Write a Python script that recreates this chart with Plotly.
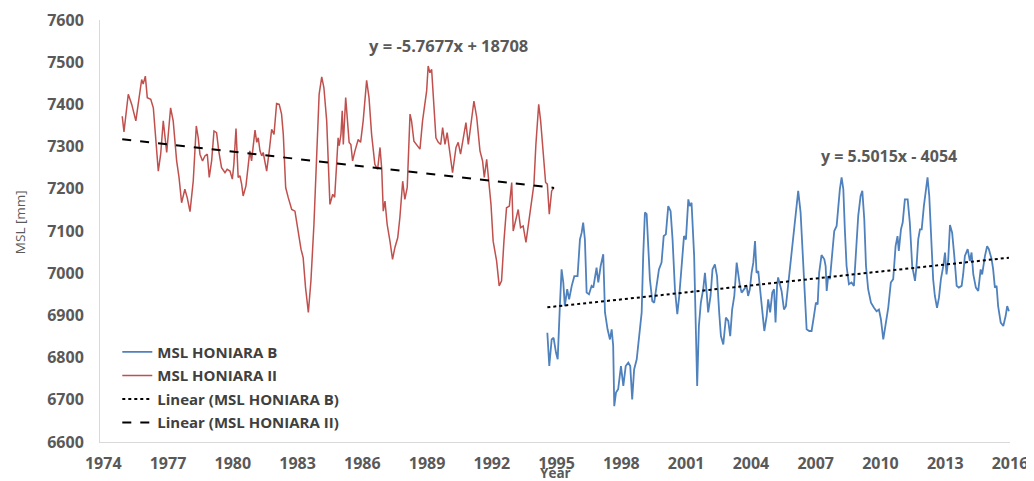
import plotly.graph_objects as go

# ---- data ----
red_years = [1974.88, 1974.96, 1975.16, 1975.32, 1975.51, 1975.70, 1975.78, 1975.85, 1975.95, 1976.04,
             1976.20, 1976.32, 1976.44, 1976.55, 1976.66, 1976.78, 1976.94, 1977.01, 1977.12, 1977.24,
             1977.40, 1977.51, 1977.63, 1977.78, 1977.89, 1978.02, 1978.17, 1978.31, 1978.40, 1978.48,
             1978.60, 1978.71, 1978.82, 1978.91, 1979.02, 1979.13, 1979.25, 1979.35, 1979.48, 1979.64,
             1979.74, 1979.87, 1979.98, 1980.05, 1980.15, 1980.25, 1980.33, 1980.41, 1980.48, 1980.61,
             1980.72, 1980.79, 1980.87, 1980.95, 1981.03, 1981.11, 1981.18, 1981.26, 1981.34, 1981.41,
             1981.49, 1981.57, 1981.69, 1981.80, 1981.91, 1982.03, 1982.15, 1982.26, 1982.34, 1982.45,
             1982.57, 1982.73, 1982.88, 1983.03, 1983.16, 1983.26, 1983.37, 1983.50, 1983.62, 1983.76,
             1983.88, 1984.00, 1984.12, 1984.22, 1984.35, 1984.42, 1984.50, 1984.63, 1984.72, 1984.81,
             1984.88, 1984.93, 1985.01, 1985.07, 1985.12, 1985.23, 1985.32, 1985.39, 1985.47, 1985.55,
             1985.66, 1985.81, 1985.92, 1986.04, 1986.20, 1986.31, 1986.43, 1986.58, 1986.71, 1986.82,
             1986.90, 1986.97, 1987.05, 1987.15, 1987.28, 1987.40, 1987.51, 1987.64, 1987.74, 1987.87,
             1987.97, 1988.08, 1988.21, 1988.28, 1988.39, 1988.52, 1988.67, 1988.79, 1988.90, 1988.98,
             1989.05, 1989.13, 1989.21, 1989.28, 1989.41, 1989.52, 1989.63, 1989.72, 1989.83, 1989.93,
             1990.06, 1990.18, 1990.34, 1990.44, 1990.55, 1990.67, 1990.80, 1990.91, 1991.02, 1991.17,
             1991.30, 1991.45, 1991.57, 1991.65, 1991.76, 1991.86, 1991.96, 1992.06, 1992.22, 1992.34,
             1992.45, 1992.56, 1992.68, 1992.81, 1992.92, 1992.99, 1993.12, 1993.22, 1993.33, 1993.45,
             1993.58, 1993.69, 1993.84, 1993.95, 1994.04, 1994.17, 1994.26, 1994.38, 1994.49, 1994.57,
             1994.66, 1994.77, 1994.88]
red_msl = [7372, 7335, 7424, 7400, 7361, 7440, 7459, 7448, 7467, 7416,
           7412, 7392, 7313, 7242, 7282, 7361, 7286, 7329, 7392, 7361,
           7266, 7227, 7167, 7199, 7179, 7146, 7219, 7349, 7321, 7282,
           7266, 7278, 7282, 7227, 7266, 7337, 7333, 7290, 7250, 7238,
           7246, 7242, 7223, 7258, 7343, 7227, 7231, 7211, 7183, 7207,
           7258, 7290, 7266, 7305, 7339, 7310, 7321, 7290, 7278, 7286,
           7258, 7242, 7290, 7341, 7329, 7402, 7400, 7377, 7329, 7203,
           7179, 7151, 7147, 7100, 7057, 7037, 6966, 6907, 6982, 7116,
           7258, 7424, 7465, 7440, 7361, 7242, 7163, 7187, 7180, 7258,
           7321, 7302, 7329, 7385, 7305, 7416, 7361, 7310, 7305, 7266,
           7290, 7317, 7310, 7361, 7457, 7416, 7329, 7258, 7246, 7298,
           7246, 7147, 7171, 7116, 7076, 7033, 7061, 7084, 7132, 7218,
           7175, 7203, 7377, 7361, 7313, 7305, 7294, 7361, 7404, 7432,
           7491, 7475, 7483, 7424, 7321, 7310, 7305, 7345, 7305, 7333,
           7282, 7238, 7298, 7310, 7282, 7321, 7357, 7305, 7345, 7408,
           7369, 7290, 7266, 7227, 7270, 7219, 7163, 7076, 7029, 6970,
           6982, 7076, 7155, 7159, 7215, 7100, 7132, 7151, 7108, 7112,
           7073, 7116, 7171, 7211, 7305, 7400, 7361, 7282, 7215, 7211,
           7140, 7195, 7203]

blue_years = [1994.57, 1994.66, 1994.77, 1994.86, 1994.97, 1995.05, 1995.15, 1995.23, 1995.31, 1995.38,
              1995.49, 1995.58, 1995.70, 1995.82, 1995.97, 1996.08, 1996.16, 1996.23, 1996.31, 1996.39,
              1996.50, 1996.62, 1996.70, 1996.77, 1996.85, 1996.93, 1997.04, 1997.16, 1997.24, 1997.36,
              1997.47, 1997.55, 1997.62, 1997.67, 1997.75, 1997.85, 1997.98, 1998.09, 1998.20, 1998.32,
              1998.41, 1998.50, 1998.59, 1998.71, 1998.81, 1998.94, 1999.01, 1999.09, 1999.17, 1999.24,
              1999.32, 1999.43, 1999.52, 1999.63, 1999.74, 1999.86, 1999.96, 2000.06, 2000.17, 2000.28,
              2000.37, 2000.48, 2000.59, 2000.68, 2000.79, 2000.90, 2000.99, 2001.10, 2001.17, 2001.25,
              2001.37, 2001.44, 2001.51, 2001.59, 2001.68, 2001.79, 2001.87, 2001.95, 2002.02, 2002.13,
              2002.22, 2002.33, 2002.43, 2002.53, 2002.61, 2002.72, 2002.84, 2002.95, 2003.04, 2003.13,
              2003.23, 2003.34, 2003.41, 2003.49, 2003.57, 2003.69, 2003.80, 2003.87, 2003.95, 2004.03,
              2004.11, 2004.19, 2004.26, 2004.34, 2004.43, 2004.52, 2004.62, 2004.73, 2004.80, 2004.89,
              2004.99, 2005.07, 2005.14, 2005.21, 2005.26, 2005.42, 2005.53, 2005.62, 2005.73, 2005.81,
              2005.89, 2005.96, 2006.07, 2006.19, 2006.30, 2006.39, 2006.50, 2006.58, 2006.70, 2006.81,
              2006.92, 2007.01, 2007.09, 2007.16, 2007.27, 2007.40, 2007.46, 2007.51, 2007.58, 2007.66,
              2007.77, 2007.86, 2007.97, 2008.04, 2008.12, 2008.20, 2008.28, 2008.35, 2008.43, 2008.54,
              2008.66, 2008.77, 2008.86, 2008.97, 2009.08, 2009.16, 2009.25, 2009.33, 2009.43, 2009.56,
              2009.70, 2009.82, 2009.93, 2010.02, 2010.13, 2010.25, 2010.36, 2010.48, 2010.59, 2010.70,
              2010.79, 2010.85, 2010.95, 2011.03, 2011.13, 2011.26, 2011.36, 2011.47, 2011.60, 2011.67,
              2011.75, 2011.83, 2011.91, 2012.01, 2012.09, 2012.18, 2012.26, 2012.34, 2012.44, 2012.52,
              2012.62, 2012.71, 2012.80, 2012.91, 2012.99, 2013.06, 2013.14, 2013.22, 2013.32, 2013.42,
              2013.53, 2013.63, 2013.76, 2013.83, 2013.91, 2014.04, 2014.14, 2014.22, 2014.30, 2014.42,
              2014.53, 2014.64, 2014.71, 2014.84, 2014.94, 2015.02, 2015.15, 2015.22, 2015.30, 2015.38,
              2015.45, 2015.57, 2015.69, 2015.80, 2015.87, 2015.95]
blue_msl = [6859, 6780, 6843, 6847, 6812, 6796, 6922, 7009, 6978, 6922,
            6962, 6938, 6970, 6993, 6993, 7080, 7096, 7120, 7080, 6954,
            6950, 6970, 6966, 6993, 7013, 6978, 7017, 7045, 6907, 6867,
            6843, 6867, 6828, 6685, 6717, 6725, 6780, 6733, 6780, 6788,
            6780, 6701, 6772, 6796, 6843, 6907, 7041, 7144, 7140, 7080,
            6986, 6934, 6930, 6970, 7009, 7025, 7088, 7092, 7159, 7147,
            7080, 6962, 6903, 6946, 7009, 7088, 7080, 7175, 7159, 7167,
            7041, 6883, 6733, 6875, 6930, 6962, 7001, 6954, 6907, 6946,
            7009, 7021, 6993, 6907, 6851, 6831, 6895, 6887, 6851, 6914,
            6946, 7025, 6997, 6970, 6954, 6962, 6970, 6946, 6962, 7001,
            7025, 7076, 7001, 7005, 6962, 6922, 6863, 6899, 6938, 6907,
            6954, 6962, 6883, 6970, 6990, 6958, 6914, 6922, 6978, 7017,
            7045, 7080, 7151, 7195, 7144, 7049, 6954, 6867, 6863, 6863,
            6899, 6930, 6926, 7001, 7043, 7033, 7017, 6958, 6993, 6986,
            7049, 7100, 7112, 7159, 7199, 7227, 7199, 7104, 7017, 6974,
            6978, 6970, 7041, 7136, 7183, 7195, 7128, 7017, 6962, 6930,
            6918, 6910, 6914, 6891, 6843, 6883, 6918, 6978, 6986, 7064,
            7088, 7053, 7104, 7120, 7175, 7175, 7120, 7017, 6982, 7017,
            7080, 7104, 7104, 7159, 7199, 7227, 7183, 7096, 6986, 6946,
            6918, 6942, 6986, 7017, 7049, 6997, 7033, 7114, 7096, 7041,
            6970, 6966, 6970, 6997, 7041, 7057, 7029, 7049, 6997, 6966,
            6958, 7009, 6997, 7041, 7064, 7057, 7033, 7009, 6966, 6970,
            6922, 6883, 6875, 6899, 6922, 6910]

# trend-line coefficients (as printed on the chart)
red_slope, red_intercept = -5.7677, 18708
blue_slope, blue_intercept = 5.5015, -4054
red_eq = "y = -5.7677x + 18708"
blue_eq = "y = 5.5015x - 4054"

x_ticks = list(range(1974, 2017, 3))
y_ticks = list(range(6600, 7601, 100))

red_trend_x = [red_years[0], red_years[-1]]
red_trend_y = [red_slope * x + red_intercept for x in red_trend_x]
blue_trend_x = [blue_years[0], blue_years[-1]]
blue_trend_y = [blue_slope * x + blue_intercept for x in blue_trend_x]

RED = "#C0504D"
BLUE = "#4F81BD"
TXT = "#595959"
FONT = "Open Sans"

fig = go.Figure()
fig.add_trace(go.Scatter(x=blue_years, y=blue_msl, mode="lines", name="MSL HONIARA B",
                         line=dict(color=BLUE, width=1.8), legendgroup="a"))
fig.add_trace(go.Scatter(x=red_years, y=red_msl, mode="lines", name="MSL HONIARA II",
                         line=dict(color=RED, width=1.5), legendgroup="b"))
fig.add_trace(go.Scatter(x=blue_trend_x, y=blue_trend_y, mode="lines", name="Linear (MSL HONIARA B)",
                         line=dict(color="black", width=2, dash="dot"), legendgroup="c"))
fig.add_trace(go.Scatter(x=red_trend_x, y=red_trend_y, mode="lines", name="Linear (MSL HONIARA II)",
                         line=dict(color="black", width=2, dash="dash"), legendgroup="d"))

fig.add_annotation(x=1989.97, y=7540, text="<b>" + red_eq + "</b>", showarrow=False,
                   font=dict(family=FONT, size=16.5, color=TXT))
fig.add_annotation(x=2010.39, y=7277, text="<b>" + blue_eq + "</b>", showarrow=False,
                   font=dict(family=FONT, size=16, color=TXT))
# axis titles placed as annotations for exact positioning
fig.add_annotation(xref="paper", yref="paper", x=0.5, y=-0.073, yanchor="middle",
                   text="<b>Year</b>", showarrow=False,
                   font=dict(family=FONT, size=13.5, color=TXT))
fig.add_annotation(xref="paper", yref="paper", x=-0.0879, y=0.521, xanchor="center", yanchor="middle",
                   text="MSL [mm]", textangle=-90, showarrow=False,
                   font=dict(family=FONT, size=13.5, color=TXT))

# the page body adds an 8px offset, so the figure is 8px smaller than the window
fig.update_layout(
    width=1026, height=473,
    margin=dict(l=92, r=24, t=12, b=39),
    paper_bgcolor="white", plot_bgcolor="white",
    font=dict(family=FONT, color=TXT),
    legend=dict(x=0.019, y=0.252, xanchor="left", yanchor="top",
                bgcolor="rgba(0,0,0,0)", font=dict(family=FONT, size=15, color="#404040", weight="bold"),
                tracegroupgap=1, itemwidth=30),
    showlegend=True,
)
fig.update_xaxes(range=[1973.85, 2016.0], tickvals=x_ticks, showgrid=False, zeroline=False,
                 showline=True, linecolor="#D9D9D9", linewidth=1, automargin=False,
                 ticklabelstandoff=7,
                 tickfont=dict(family=FONT, size=16, color=TXT, weight="bold"))
fig.update_yaxes(range=[6600, 7600], tickvals=y_ticks, showgrid=False, zeroline=False,
                 showline=True, linecolor="#D9D9D9", linewidth=1, automargin=False,
                 ticklabelstandoff=12,
                 tickfont=dict(family=FONT, size=16, color=TXT, weight="bold"))

fig.write_html("out.html")
